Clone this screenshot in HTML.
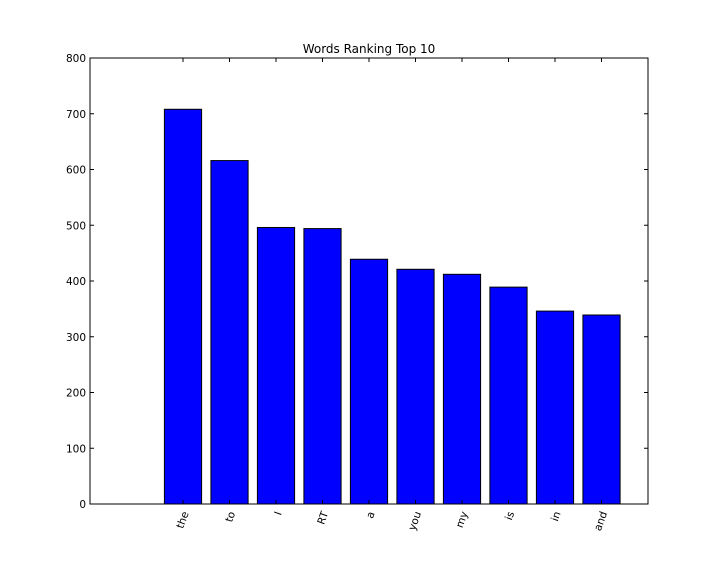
<!DOCTYPE html>
<html><head><meta charset="utf-8"><style>
body{margin:0;background:#fff;}
svg{display:block;font-family:"DejaVu Sans","Liberation Sans",sans-serif;}
</style></head><body>
<svg id="chart" width="720" height="576" xmlns="http://www.w3.org/2000/svg">
<rect x="0" y="0" width="720" height="576" fill="#fff"/>
<text x="369" y="53" font-size="12" text-anchor="middle">Words Ranking Top 10</text>
<g id="plot"></g>
<rect x="90" y="58" width="558" height="446" fill="none" stroke="#000" stroke-width="1"/>
</svg>
<script>
const categories=["the","to","I","RT","a","you","my","is","in","and"];
const counts=[708,616,496,494,439,421,412,389,346,339];
const yTicks=[0,100,200,300,400,500,600,700,800];
const L=90,R=648,T=58,B=504;
const xMin=-2,xMax=10,yMax=800;
const x=v=>L+(v-xMin)*(R-L)/(xMax-xMin);
const y=v=>B-v*(B-T)/yMax;
const g=document.getElementById('plot');
const NS="http://www.w3.org/2000/svg";
function mk(tag,attrs){const e=document.createElementNS(NS,tag);for(const k in attrs)e.setAttribute(k,attrs[k]);g.appendChild(e);return e;}
const bw=0.8*(R-L)/(xMax-xMin);
categories.forEach((c,i)=>{
  const b=mk('rect',{x:x(i)-bw/2,y:y(counts[i]),width:bw,height:y(0)-y(counts[i]),fill:'#0000ff',stroke:'#000','stroke-width':1});
  
  
  const t1=mk('line',{x1:x(i),x2:x(i),y1:B,y2:B-4,stroke:'#000'});
  
  
  const t2=mk('line',{x1:x(i),x2:x(i),y1:T,y2:T+4,stroke:'#000'});
  
  
  const lx=x(i)+3,ly=B+8;
  const tl=mk('text',{x:lx,y:ly,'font-size':10.5,'text-anchor':'end',transform:`rotate(-70 ${lx} ${ly})`,'dominant-baseline':'middle'});
  tl.textContent=c;
  
  
});
yTicks.forEach(v=>{
  const a=mk('line',{x1:L,x2:L+4,y1:y(v),y2:y(v),stroke:'#000'});
  
  
  const b=mk('line',{x1:R,x2:R-4,y1:y(v),y2:y(v),stroke:'#000'});
  
  
  const t=mk('text',{x:L-4,y:y(v)+4,'font-size':10.5,'text-anchor':'end'});
  t.textContent=v;
  
  
});
</script>
</body></html>
